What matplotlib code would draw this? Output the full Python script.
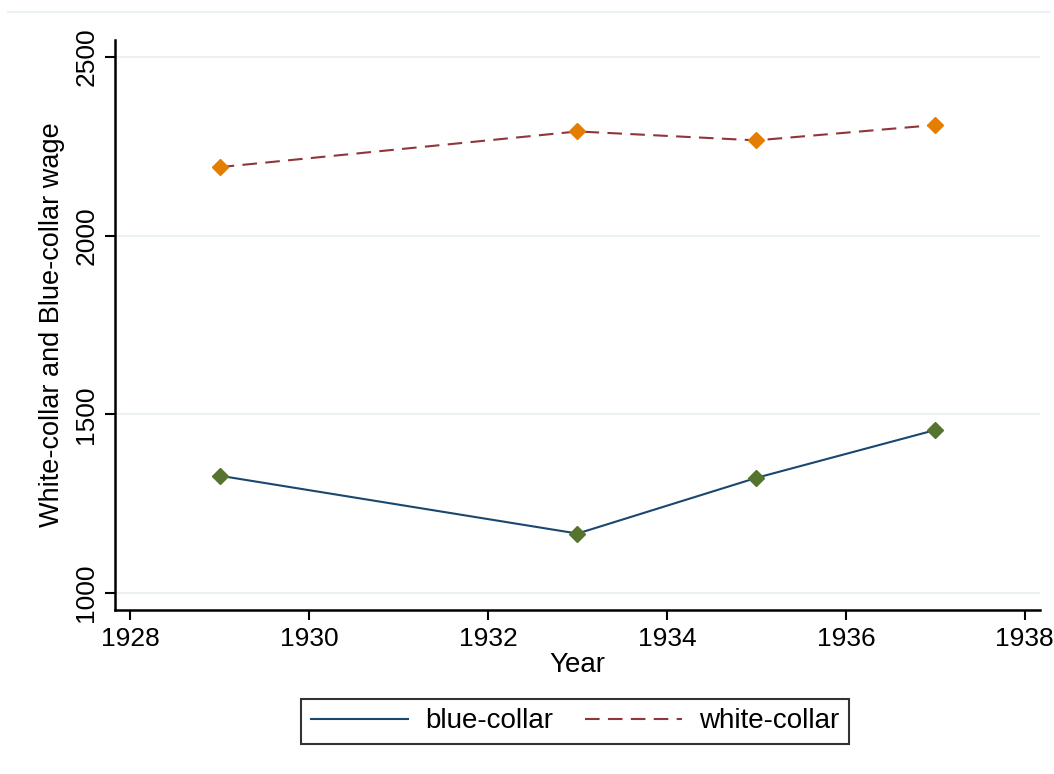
import numpy as np
import matplotlib.pyplot as plt
from matplotlib.lines import Line2D

# ── Data ────────────────────────────────────────────────────────────────────
years = [1929, 1933, 1935, 1937]
blue_collar = [1328, 1166, 1322, 1456]
white_collar = [2192, 2292, 2267, 2310]

x_ticks = [1928, 1930, 1932, 1934, 1936, 1938]
y_ticks = [1000, 1500, 2000, 2500]

# Stata s2color palette
navy = "#1a476f"
maroon = "#90353b"
green = "#55752f"
orange = "#e37e00"
grid_col = "#eaf2f3"

plt.rcParams["font.family"] = ["Liberation Sans", "DejaVu Sans"]

fig = plt.figure(figsize=(10.54, 7.74), dpi=100)
ax = fig.add_axes([0.1091, 0.2119, 0.8776, 0.7364])

# faint border line at the top of the graph region
fig.add_artist(Line2D([0.008, 0.996], [0.985, 0.985], color=grid_col,
                      lw=1.5, transform=fig.transFigure))

# ── Plot ────────────────────────────────────────────────────────────────────
ax.plot(years, blue_collar, color=navy, lw=1.5, label="blue-collar")
ax.plot(years, white_collar, color=maroon, lw=1.5, ls=(0, (7, 4)),
        label="white-collar")
ax.plot(years, blue_collar, ls="none", marker="D", ms=8, color=green)
ax.plot(years, white_collar, ls="none", marker="D", ms=8, color=orange)

ax.set_xlim(1927.83, 1938.17)
ax.set_ylim(952, 2548)
ax.set_xticks(x_ticks)
ax.set_yticks(y_ticks)
ax.set_yticklabels([str(v) for v in y_ticks], rotation=90, va="center")

ax.grid(axis="y", color=grid_col, lw=1.5)
ax.set_axisbelow(True)

for s in ["top", "right"]:
    ax.spines[s].set_visible(False)
for s in ["left", "bottom"]:
    ax.spines[s].set_linewidth(1.8)
    ax.spines[s].set_color("black")

ax.tick_params(axis="both", labelsize=19, length=7, width=1.5,
               direction="out", colors="black")
ax.tick_params(axis="x", pad=5)
ax.tick_params(axis="y", pad=5)

ax.set_xlabel("Year", fontsize=20, labelpad=1)
ax.set_ylabel("White-collar and Blue-collar wage", fontsize=19.5, labelpad=7)

leg = fig.legend(loc="center", bbox_to_anchor=(0.5455, 0.068), ncol=2,
                 fontsize=20, frameon=True, fancybox=False, handlelength=3.5,
                 columnspacing=1.15, handletextpad=0.6, borderpad=0.35)
leg.get_frame().set_edgecolor("black")
leg.get_frame().set_linewidth(1.5)

fig.savefig("out.png", dpi=100)
